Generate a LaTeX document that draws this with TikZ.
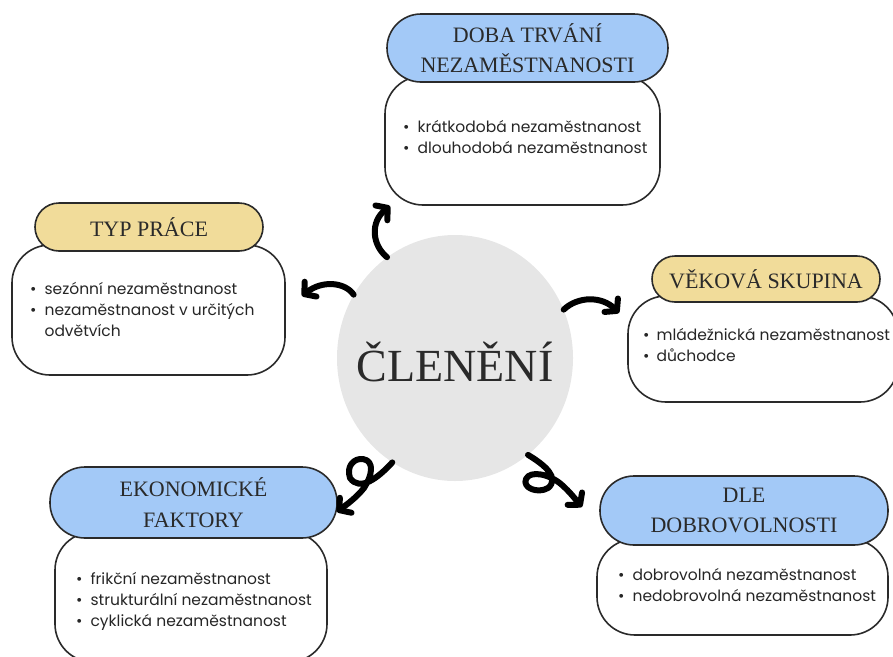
\documentclass[tikz,border=0pt]{standalone}
\usepackage{fontspec}
\newfontfamily\bodyfont{Poppins}
\newfontfamily\headfont{Liberation Serif}
\usetikzlibrary{arrows.meta, shapes.geometric}

\definecolor{headblue}{HTML}{A3C9F7}
\definecolor{headtan}{HTML}{F1DC9A}
\definecolor{blobgray}{HTML}{E6E6E6}
\definecolor{inkgray}{HTML}{2A2A2A}

\tikzset{
  bodybox/.style = {draw=inkgray, line width=1.6pt, fill=white,
    rounded corners=38pt, inner sep=0pt},
  headbox/.style = {draw=inkgray, line width=1.6pt, rounded corners=#1,
    inner sep=0pt, align=center, text=inkgray,
    font=\headfont\fontsize{22}{30.5}\selectfont},
  bulletlist/.style = {anchor=base west, inner sep=0pt, text=black!85,
    font=\bodyfont\fontsize{15.5}{21}\selectfont},
  handarrow/.style = {line width=6pt, line cap=round, line join=round,
    -{Straight Barb[length=8pt, width=19pt, round]}}
}

\begin{document}
\begin{tikzpicture}[x=1pt, y=-1pt]
  \useasboundingbox (0,0) rectangle (893,656);

  % bodies
  \node [bodybox, minimum width=275pt, minimum height=129pt] (dobaBody) at (522.5,140.5) {};
  \node [bodybox, minimum width=273pt, minimum height=130pt] (typBody) at (148.5,310) {};
  \node [bodybox, minimum width=270pt, minimum height=106pt] (vekBody) at (763,349) {};
  \node [bodybox, minimum width=272pt, minimum height=130pt] (ekoBody) at (191,597) {};
  \node [bodybox, minimum width=291pt, minimum height=96pt] (dleBody) at (742.5,587) {};

  % heads
  \node [headbox=34pt, fill=headblue, minimum width=281pt, minimum height=68pt]
    (dobaHead) at (527.5,48) {DOBA TRVÁNÍ\\NEZAMĚSTNANOSTI};
  \node [headbox=24pt, fill=headtan, minimum width=228pt, minimum height=48pt]
    (typHead) at (149,227) {TYP PRÁCE};
  \node [headbox=23pt, fill=headtan, minimum width=228pt, minimum height=46pt]
    (vekHead) at (766,279) {VĚKOVÁ SKUPINA};
  \node [headbox=35pt, fill=headblue, minimum width=287pt, minimum height=71pt]
    (ekoHead) at (193.5,502.5) {EKONOMICKÉ\\FAKTORY};
  \node [headbox=34pt, fill=headblue, minimum width=288pt, minimum height=69pt]
    (dleHead) at (744,510.5) {DLE\\DOBROVOLNOSTI};

  % lists
  \node [bulletlist] (dobaList) at (403,132) {\begin{tabular}[t]{@{}l@{\hspace{8pt}}l@{}}
    \textbullet & krátkodobá nezaměstnanost\\
    \textbullet & dlouhodobá nezaměstnanost
  \end{tabular}};
  \node [bulletlist] (typList) at (30,294) {\begin{tabular}[t]{@{}l@{\hspace{8pt}}l@{}}
    \textbullet & sezónní nezaměstnanost\\
    \textbullet & nezaměstnanost v určitých\\
                & odvětvích
  \end{tabular}};
  \node [bulletlist] (vekList) at (643,340) {\begin{tabular}[t]{@{}l@{\hspace{7pt}}l@{}}
    \textbullet & mládežnická nezaměstnanost\\
    \textbullet & důchodce
  \end{tabular}};
  \node [bulletlist] (ekoList) at (76,584) {\begin{tabular}[t]{@{}l@{\hspace{8pt}}l@{}}
    \textbullet & frikční nezaměstnanost\\
    \textbullet & strukturální nezaměstnanost\\
    \textbullet & cyklická nezaměstnanost
  \end{tabular}};
  \node [bulletlist] (dleList) at (618,580) {\begin{tabular}[t]{@{}l@{\hspace{8pt}}l@{}}
    \textbullet & dobrovolná nezaměstnanost\\
    \textbullet & nedobrovolná nezaměstnanost
  \end{tabular}};

  % centre
  \node [ellipse, fill=blobgray, minimum width=236pt, minimum height=246pt,
    inner sep=0pt] (clen) at (455,358) {};
  \node [text=inkgray, font=\headfont\fontsize{46}{50}\selectfont]
    (clenText) at (455,362) {ČLENĚNÍ};

  \coordinate (dobaTip) at (390,206);
  \coordinate (typTip) at (302,296);
  \coordinate (vekTip) at (619,313);
  \coordinate (ekoTip) at (337,512);
  \coordinate (dleTip) at (582,507);

  \draw [handarrow] (clen.124) .. controls (372,245) and (370,222) .. (dobaTip);
  \draw [handarrow] (clen.148) .. controls (345,282) and (322,280) .. (typTip);
  \draw [handarrow] (clen.24) .. controls (578,296) and (602,296) .. (vekTip);
  \draw [handarrow] (clen.239) .. controls (378,478) and (360,492) .. (350,478)
    .. controls (346,466) and (354,458) .. (363,459)
    .. controls (375,461) and (372,476) .. (364,488)
    .. controls (356,498) and (346,505) .. (ekoTip);
  \draw [handarrow] (clen.307) .. controls (545,465) and (560,478) .. (548,488)
    .. controls (538,494) and (522,488) .. (526,479)
    .. controls (530,470) and (550,474) .. (562,485)
    .. controls (570,492) and (576,500) .. (dleTip);
\end{tikzpicture}
\end{document}
